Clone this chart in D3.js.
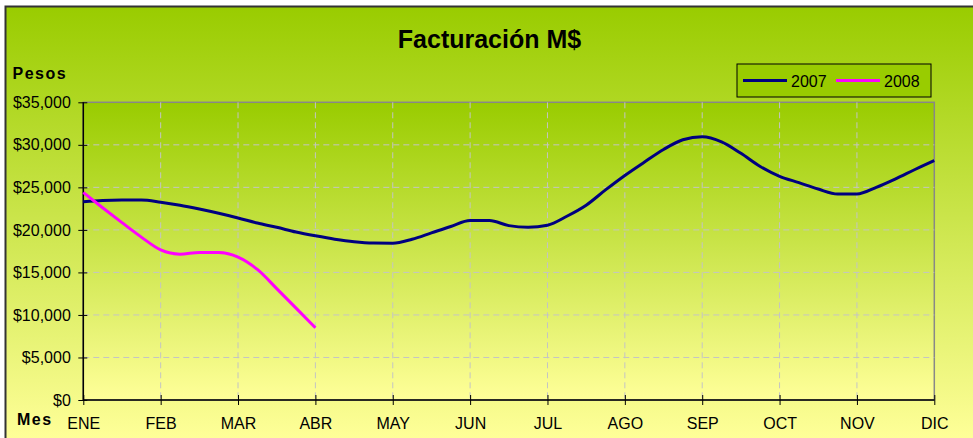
<!DOCTYPE html>
<html>
<head>
<meta charset="utf-8">
<script src="https://cdn.jsdelivr.net/npm/d3@7"></script>
<style>
  body { margin: 0; background: #fff; }
  text { font-family: Arial, "Liberation Sans", sans-serif; }
</style>
</head>
<body>
<div class="chart-container"></div>
<script>
// months shown on the axis, data is weekly (4 points per month)
const months = ["ENE", "FEB", "MAR", "ABR", "MAY", "JUN", "JUL", "AGO", "SEP", "OCT", "NOV", "DIC"];
const weeksPerMonth = 4;
const seriesNames = ["2007", "2008"];

const ventas2007 = [
  23300, 23450, 23500, 23500, 23250, 22900, 22450, 21950,
  21400, 20800, 20300, 19750, 19300, 18900, 18600, 18450,
  18430, 18900, 19650, 20400, 21100, 21100, 20500, 20300,
  20550, 21600, 22900, 24700, 26400, 27950, 29450, 30600,
  30950, 30350, 29000, 27450, 26300, 25550, 24800, 24220,
  24220, 25000, 26000, 27100, 28150
];
const ventas2008 = [
  24400, 22600, 20850, 19150, 17650, 17150, 17350, 17330,
  16800, 15350, 13100, 10800, 8500
];

const yTicks = [0, 5000, 10000, 15000, 20000, 25000, 30000, 35000];

const width = 973;
const height = 438;
const plot = { left: 83.3, right: 934.3, top: 102.3, bottom: 400 };

const svg = d3
  .select(".chart-container")
  .append("svg")
  .attr("width", width)
  .attr("height", height);

// gradients: green on top fading to pale yellow
const defs = svg.append("defs");
const addGradient = (id, y1, y2) => {
  const g = defs
    .append("linearGradient")
    .attr("id", id)
    .attr("gradientUnits", "userSpaceOnUse")
    .attr("x1", 0).attr("x2", 0)
    .attr("y1", y1).attr("y2", y2);
  g.append("stop").attr("offset", "0%").attr("stop-color", "#99cc00");
  g.append("stop").attr("offset", "100%").attr("stop-color", "#ffff99");
};
addGradient("bgOuter", 6, 440);
addGradient("bgPlot", plot.top, plot.bottom);

// outer chart area
svg
  .append("rect")
  .attr("x", 5.5)
  .attr("y", 6.5)
  .attr("width", 990)
  .attr("height", 460)
  .attr("fill", "url(#bgOuter)")
  .attr("stroke", "#333")
  .attr("stroke-width", 2);

// plot area
svg
  .append("rect")
  .attr("x", plot.left)
  .attr("y", plot.top)
  .attr("width", plot.right - plot.left)
  .attr("height", plot.bottom - plot.top)
  .attr("fill", "url(#bgPlot)")
  .attr("stroke", "#888")
  .attr("stroke-width", 1.5);

// scales
const xScale = d3
  .scaleLinear()
  .domain([0, (months.length - 1) * weeksPerMonth])
  .range([plot.left, plot.right]);

const yScale = d3
  .scaleLinear()
  .domain([0, 35000])
  .range([plot.bottom, plot.top]);

const monthTicks = months.map((m, i) => i * weeksPerMonth);

// dashed grid
const grid = svg.append("g").attr("stroke", "#c4c4c4").attr("stroke-dasharray", "6,4").attr("stroke-width", 1);
grid
  .selectAll("line.h")
  .data(yTicks.slice(1, -1))
  .join("line")
  .attr("class", "h")
  .attr("x1", plot.left)
  .attr("x2", plot.right)
  .attr("y1", (d) => yScale(d))
  .attr("y2", (d) => yScale(d));
grid
  .selectAll("line.v")
  .data(monthTicks.slice(1, -1))
  .join("line")
  .attr("class", "v")
  .attr("y1", plot.top)
  .attr("y2", plot.bottom)
  .attr("x1", (d) => xScale(d))
  .attr("x2", (d) => xScale(d));

// axes (ticks cross the axis line)
const yAxis = svg
  .append("g")
  .attr("transform", `translate(${plot.left},0)`)
  .call(d3.axisLeft(yScale).tickValues(yTicks).tickFormat(d3.format("$,.0f")).tickSize(5).tickPadding(8));
yAxis.select(".domain").attr("stroke", "#000").attr("stroke-width", 1.5).attr("d", `M0,${plot.top}V${plot.bottom}`);
yAxis.selectAll(".tick line").attr("x1", 4).attr("x2", -5).attr("stroke", "#000");
yAxis.selectAll(".tick text").style("font-size", "16px").attr("fill", "#000").attr("x", -12.5);

const xAxis = svg
  .append("g")
  .attr("transform", `translate(0,${plot.bottom})`)
  .call(d3.axisBottom(xScale).tickValues(monthTicks).tickFormat((d) => months[d / weeksPerMonth]).tickSize(5));
xAxis.select(".domain").attr("stroke", "#000").attr("stroke-width", 1.5).attr("d", `M${plot.left},0H${plot.right}`);
xAxis.selectAll(".tick line").attr("y1", -5).attr("y2", 5).attr("stroke", "#000");
xAxis.selectAll(".tick text").style("font-size", "16px").attr("fill", "#000").attr("y", 18);

// lines
const line = d3
  .line()
  .x((d, i) => xScale(i))
  .y((d) => yScale(d))
  .curve(d3.curveMonotoneX);

svg.append("path")
  .datum(ventas2007)
  .attr("d", line)
  .attr("fill", "none")
  .attr("stroke", "#000080")
  .attr("stroke-width", 3);

svg.append("path")
  .datum(ventas2008)
  .attr("d", line)
  .attr("fill", "none")
  .attr("stroke", "#ff00ff")
  .attr("stroke-width", 3);

// title
svg
  .append("text")
  .attr("x", 489.5)
  .attr("y", 48)
  .attr("text-anchor", "middle")
  .style("font-size", "25px")
  .style("font-weight", "bold")
  .text("Facturación M$");

// axis titles
svg.append("text")
  .attr("x", 12.5)
  .attr("y", 79)
  .style("font-size", "16px")
  .style("font-weight", "bold")
  .style("letter-spacing", "1.5px")
  .text("Pesos");

svg.append("text")
  .attr("x", 17)
  .attr("y", 425)
  .style("font-size", "16px")
  .style("font-weight", "bold")
  .style("letter-spacing", "1.5px")
  .text("Mes");

// legend
const legend = svg.append("g").attr("transform", "translate(737,64)");
legend
  .append("rect")
  .attr("width", 194)
  .attr("height", 33)
  .attr("fill", "#99cc00")
  .attr("stroke", "#000")
  .attr("stroke-width", 1);

const legendColors = ["#000080", "#ff00ff"];
const item = legend
  .selectAll("g")
  .data(seriesNames)
  .join("g")
  .attr("transform", (d, i) => `translate(${6 + i * 93},0)`);
item
  .append("line")
  .attr("x1", 0)
  .attr("x2", 44)
  .attr("y1", 16.5)
  .attr("y2", 16.5)
  .attr("stroke", (d, i) => legendColors[i])
  .attr("stroke-width", 3);
item
  .append("text")
  .attr("x", 48)
  .attr("y", 22.5)
  .style("font-size", "16px")
  .text((d) => d);
</script>
</body>
</html>
